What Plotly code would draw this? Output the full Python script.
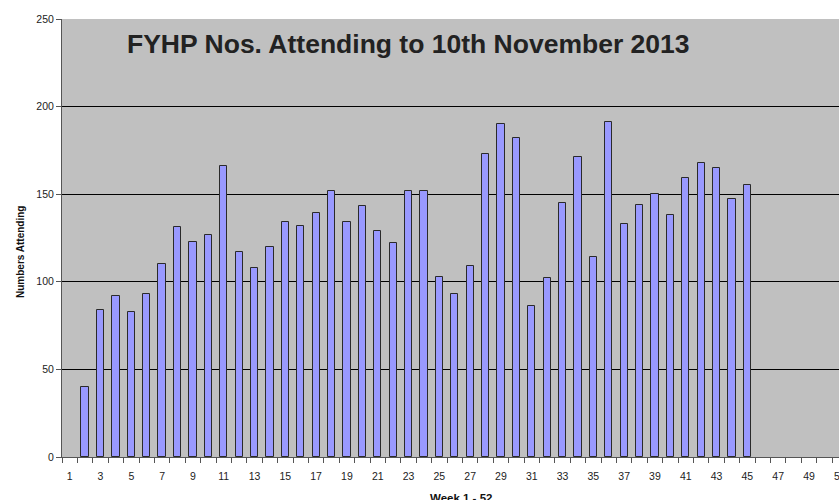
import plotly.graph_objects as go

weeks = list(range(1, 53))
attending = [None, 40, 84, 92, 83, 93, 110, 131, 123, 127, 166, 117, 108, 120,
             134, 132, 139, 152, 134, 143, 129, 122, 152, 152, 103, 93, 109, 173,
             190, 182, 86, 102, 145, 171, 114, 191, 133, 144, 150, 138, 159, 168,
             165, 147, 155, None, None, None, None, None, None, None]
tick_weeks = list(range(1, 53, 2))
y_ticks = [0, 50, 100, 150, 200, 250]
x_range = [0.5, 50.95]

W, H = 839, 500
l, r, t, b = 62, 0, 19, 43
pw, ph = W - l - r, H - t - b


def paper(px, py):
    """page pixel -> paper coords"""
    return (px - l) / pw, (H - b - py) / ph


font = "Liberation Sans, Arial, sans-serif"

fig = go.Figure()
fig.add_trace(go.Bar(
    x=weeks, y=attending, width=0.47,
    marker=dict(color="#9999FF", line=dict(color="#2a2a2a", width=1)),
))

anns = []
tx, ty = paper(408, 44)
anns.append(dict(text="<b>FYHP Nos. Attending to 10th November 2013</b>",
                 x=tx, y=ty, font=dict(size=26.5, color="#222222", family=font)))
ax_, ay_ = paper(20, 252)
anns.append(dict(text="<b>Numbers Attending</b>", textangle=-90, x=ax_, y=ay_,
                 font=dict(size=10, color="#111111", family=font)))
wx, wy = paper(461, 498)
anns.append(dict(text="<b>Week 1 - 52</b>", x=wx, y=wy,
                 font=dict(size=11.5, color="#111111", family=font)))
# last tick label (51) lies just beyond the visible window
lx = (51 - x_range[0]) / (x_range[1] - x_range[0])
_, ly = paper(0, 476)
anns.append(dict(text="51", x=lx, y=ly,
                 font=dict(size=10.5, color="#222222", family=font)))
for a in anns:
    a.update(xref="paper", yref="paper", showarrow=False,
             xanchor="center", yanchor="middle")

fig.update_layout(
    width=W, height=H,
    margin=dict(l=l, r=r, t=t, b=b, pad=0),
    paper_bgcolor="white", plot_bgcolor="#C0C0C0",
    showlegend=False, bargap=0,
    font=dict(family=font, size=10.5, color="#222222"),
    xaxis=dict(
        range=x_range, tickmode="array", tickvals=tick_weeks,
        ticktext=[str(v) for v in tick_weeks],
        ticks="", showgrid=False, zeroline=False,
        showline=True, linecolor="#555555", linewidth=1,
        ticklabelstandoff=9,
        minor=dict(tickmode="linear", tick0=0.5, dtick=1, ticks="outside",
                   ticklen=5, tickcolor="#555555", showgrid=False),
        tickfont=dict(size=10.5, color="#222222"),
    ),
    yaxis=dict(
        range=[0, 250], tickmode="array", tickvals=y_ticks,
        ticks="outside", ticklen=5, tickcolor="#555555",
        showgrid=True, gridcolor="#000000", gridwidth=1,
        zeroline=False, showline=True, linecolor="#555555", linewidth=1,
        tickfont=dict(size=10.5, color="#222222"),
    ),
    annotations=anns,
)

fig.write_html(
    "out.html",
    config={"displayModeBar": False},
    post_script="document.body.style.margin='0';"
                "document.body.style.overflow='hidden';",
)
